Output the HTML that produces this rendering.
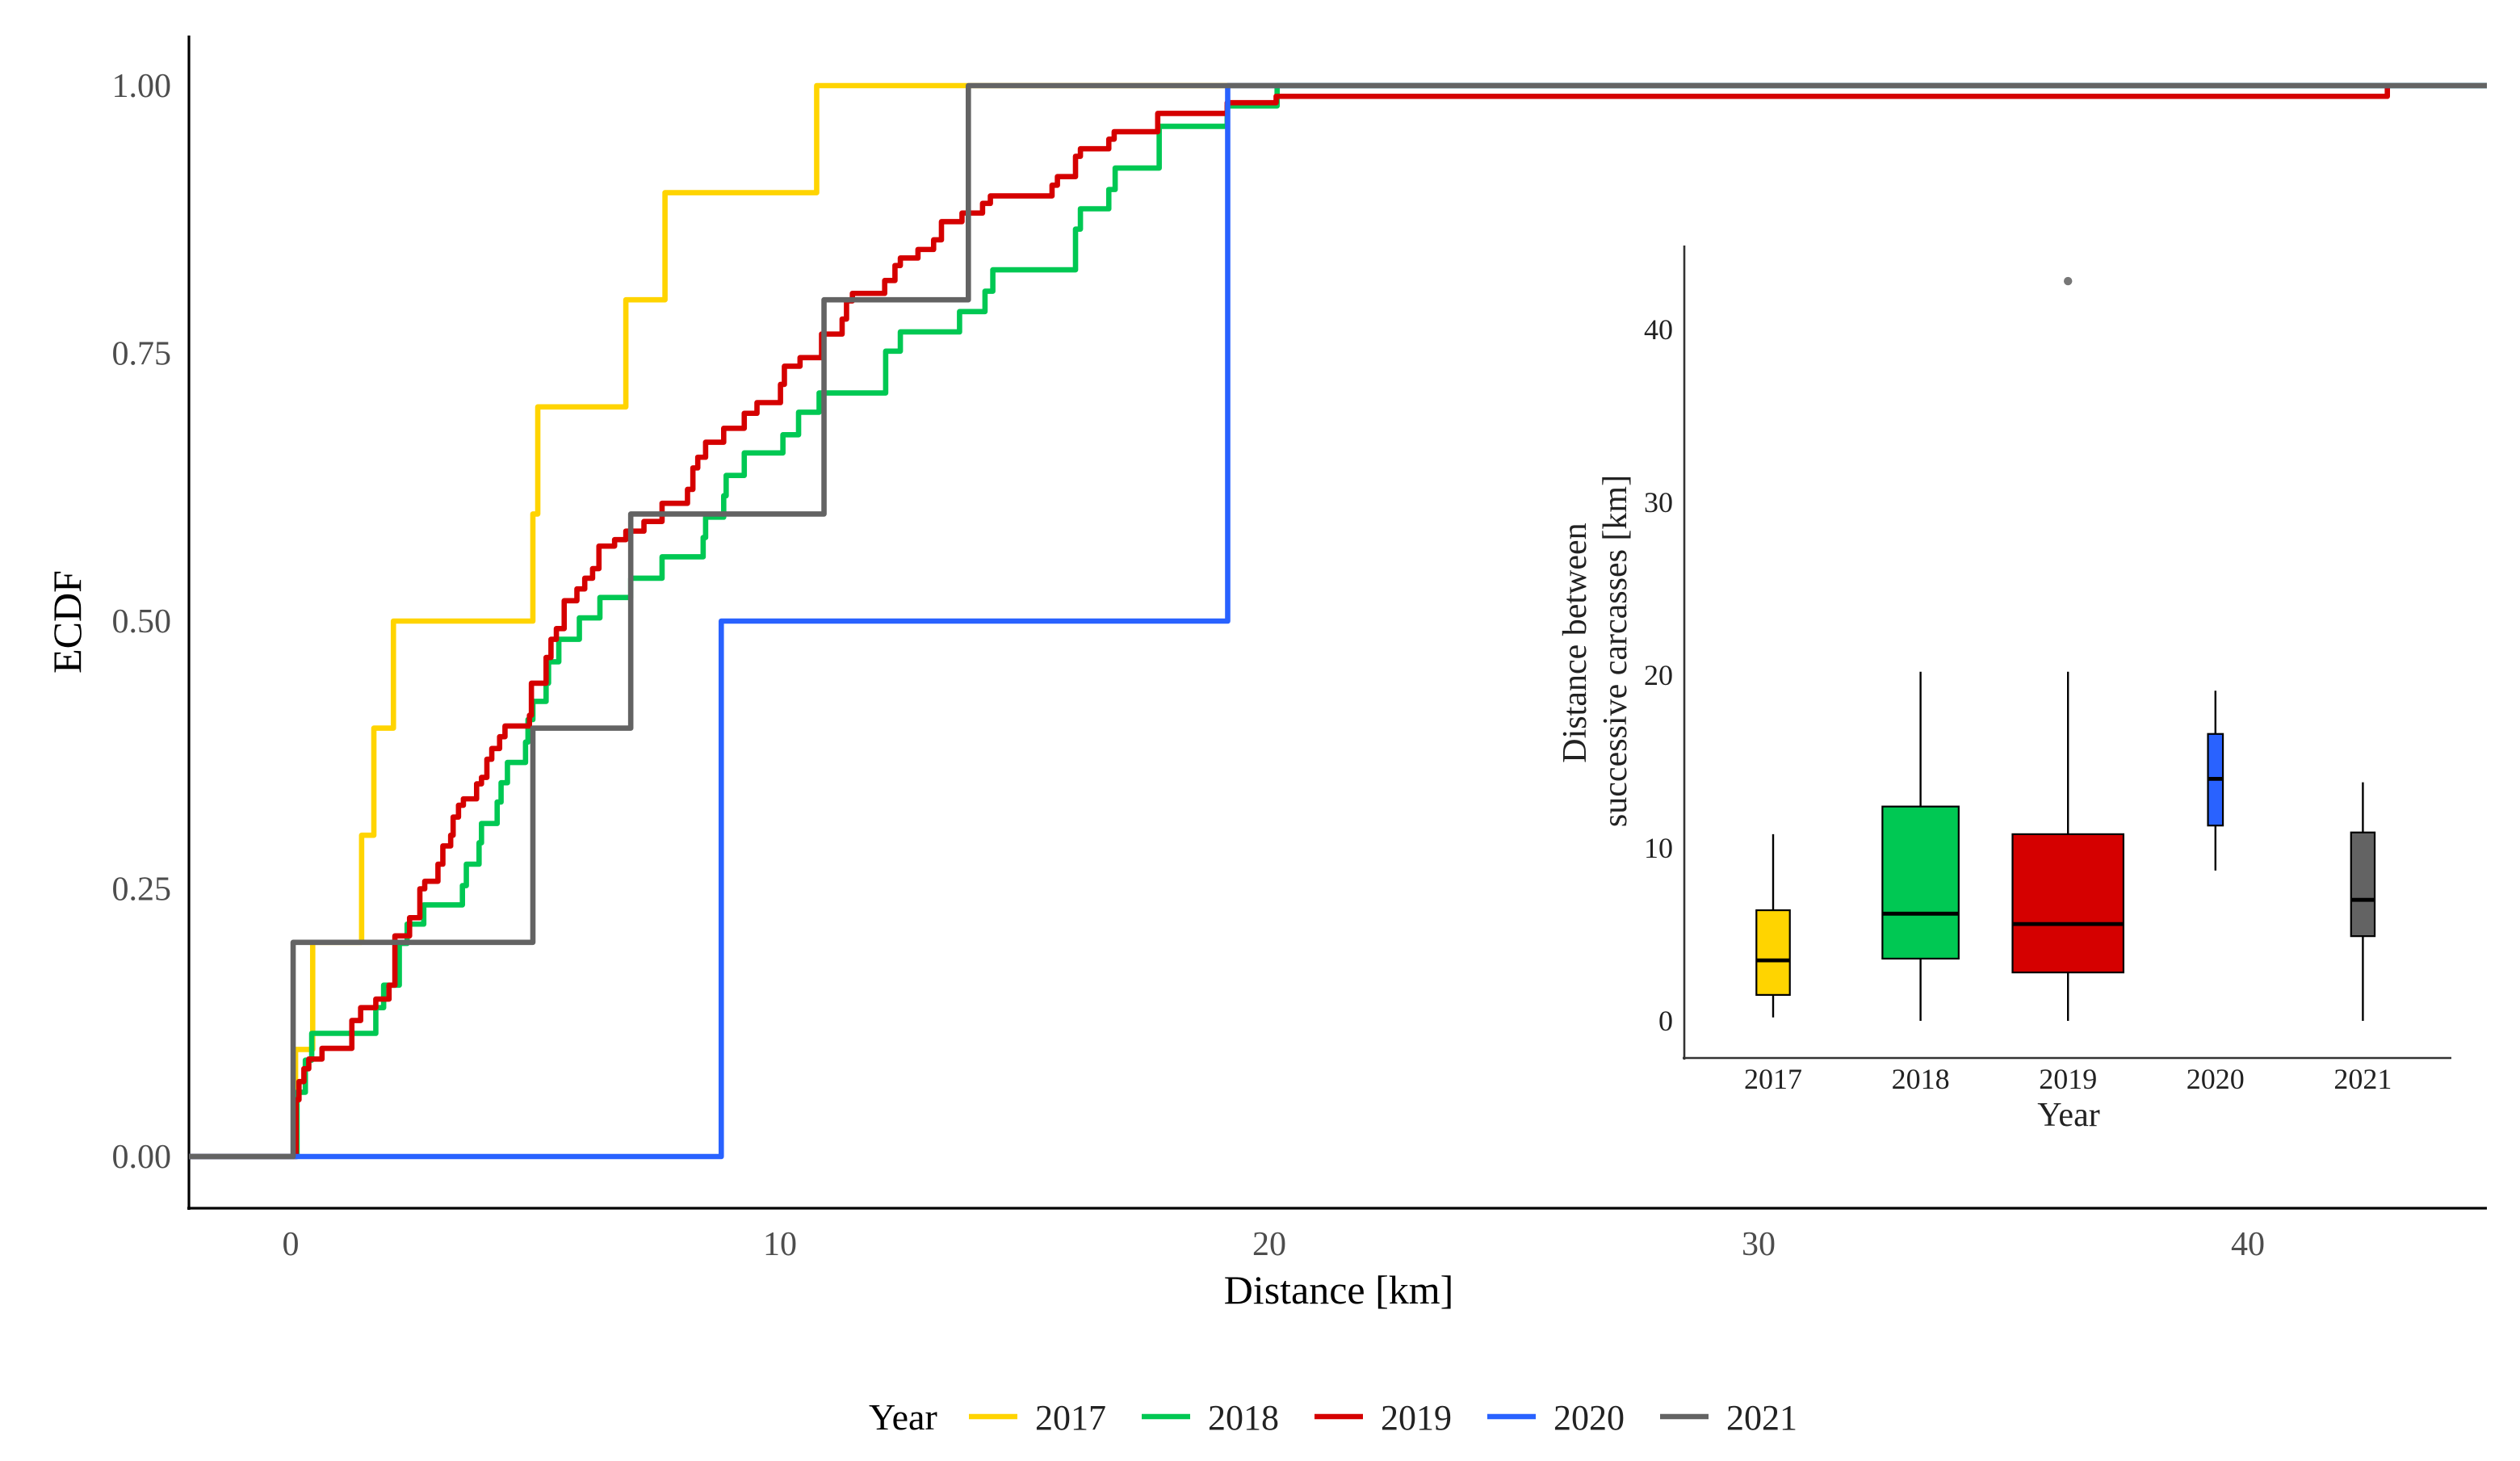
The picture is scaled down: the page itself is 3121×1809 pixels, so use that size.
<!DOCTYPE html>
<html><head><meta charset="utf-8"><style>
html,body{margin:0;padding:0;background:#fff;}
svg{display:block;font-family:"Liberation Serif",serif;}
</style></head><body>
<svg id="chart" width="3121" height="1809" viewBox="0 0 1560.5 904.5" xmlns="http://www.w3.org/2000/svg">
<g id="main"></g><g id="inset"></g><g id="legend"></g>
</svg>
<script>
// ---- main ECDF data (km, cumulative level after step) ----
const years = ["2017","2018","2019","2020","2021"];
const colors = ["#FFD400","#00C853","#D50000","#2962FF","#636363"];
const x2017 = [0.1,0.45,1.45,1.7,2.1,4.95,5.05,6.85,7.65,10.75];
const y2017 = [0.1,0.2,0.3,0.4,0.5,0.6,0.7,0.8,0.9,1.0];
const x2018 = [0.13,0.30,0.43,1.74,1.90,2.22,2.38,2.72,3.51,3.59,3.85,3.90,4.22,4.30,4.43,4.80,4.85,4.95,5.22,5.27,5.48,5.90,6.32,6.95,7.59,8.43,8.48,8.85,8.90,9.27,10.06,10.38,10.80,12.16,12.46,13.67,14.19,14.35,16.04,16.14,16.72,16.85,17.75,19.14,20.16];
const y2018 = [0.06,0.09,0.115,0.139,0.160,0.199,0.217,0.235,0.253,0.273,0.293,0.311,0.331,0.349,0.368,0.387,0.408,0.425,0.442,0.462,0.483,0.503,0.522,0.540,0.560,0.578,0.597,0.617,0.636,0.657,0.674,0.695,0.713,0.752,0.770,0.789,0.808,0.828,0.866,0.885,0.903,0.923,0.962,0.981,1.0];
const x2019 = [0.11,0.17,0.27,0.37,0.64,1.25,1.43,1.74,2.01,2.13,2.43,2.64,2.74,3.01,3.11,3.27,3.32,3.43,3.53,3.80,3.90,4.01,4.11,4.27,4.38,4.88,4.92,5.22,5.32,5.43,5.59,5.85,6.01,6.17,6.30,6.62,6.85,7.22,7.59,8.11,8.22,8.32,8.48,8.85,9.27,9.53,10.01,10.09,10.41,10.85,11.27,11.36,11.48,12.14,12.35,12.46,12.82,13.14,13.30,13.72,14.14,14.30,15.56,15.67,16.04,16.14,16.72,16.83,17.72,19.14,20.14,42.85];
const y2019 = [0.053,0.070,0.082,0.091,0.101,0.127,0.139,0.147,0.160,0.206,0.223,0.250,0.257,0.273,0.290,0.300,0.317,0.328,0.334,0.348,0.354,0.371,0.381,0.392,0.402,0.412,0.442,0.466,0.483,0.493,0.519,0.530,0.540,0.549,0.570,0.576,0.584,0.593,0.610,0.623,0.643,0.653,0.667,0.680,0.694,0.704,0.721,0.738,0.746,0.768,0.782,0.799,0.806,0.818,0.832,0.839,0.847,0.856,0.873,0.881,0.890,0.897,0.907,0.915,0.934,0.941,0.950,0.957,0.974,0.984,0.990,1.0];
const x2020 = [8.8,19.15];
const y2020 = [0.5,1.0];
const x2021 = [0.05,4.95,6.95,10.9,13.85];
const y2021 = [0.2,0.4,0.6,0.8,1.0];
const xTicks = [0,10,20,30,40];
const yTicks = [0,0.25,0.5,0.75,1.0];
const yTickLabels = ["0.00","0.25","0.50","0.75","1.00"];
// ---- inset boxplot data ----
const bxLow  = [0.2,0,0,8.7,0];
const bxQ1   = [1.5,3.6,2.8,11.3,4.9];
const bxMed  = [3.5,6.2,5.6,14.0,7.0];
const bxQ3   = [6.4,12.4,10.8,16.6,10.9];
const bxHigh = [10.8,20.2,20.2,19.1,13.8];
const bxN    = [10,52,110,2,5];
const outlierYear = [2];
const outlierVal = [42.8];
const insetTicks = [0,10,20,30,40];

const NS="http://www.w3.org/2000/svg";
function mk(tag,attrs,parent,text){const e=document.createElementNS(NS,tag);for(const k in attrs)e.setAttribute(k,attrs[k]);if(text!==undefined)e.textContent=text;parent.appendChild(e);return e;}
const X=km=>180+30.3*km, Y=p=>716-663*p;
const main=document.getElementById('main');
let e;
e=mk('line',{x1:117,y1:22,x2:117,y2:749,stroke:'#000','stroke-width':1.6},main);


e=mk('line',{x1:116,y1:748,x2:1540,y2:748,stroke:'#000','stroke-width':1.6},main);


yTicks.forEach((t,i)=>{
  e=mk('text',{x:106,y:Y(t)+7,'text-anchor':'end','font-size':21,fill:'#4d4d4d'},main,yTickLabels[i]);
  
  
});
xTicks.forEach(t=>{
  e=mk('text',{x:X(t),y:777,'text-anchor':'middle','font-size':21,fill:'#4d4d4d'},main,String(t));
  
  
});
e=mk('text',{x:829,y:807,'text-anchor':'middle','font-size':25,fill:'#000'},main,'Distance [km]');


e=mk('text',{x:0,y:0,'text-anchor':'middle','font-size':25,fill:'#000',transform:'translate(50,385) rotate(-90)'},main,'ECDF');


const xs=[x2017,x2018,x2019,x2020,x2021], ys=[y2017,y2018,y2019,y2020,y2021];
xs.forEach((xa,s)=>{
  let d='M117,'+Y(0);
  xa.forEach((v,i)=>{d+=' H'+X(v)+' V'+Y(ys[s][i]);});
  if(s!==2) d+=' H1540';
  e=mk('path',{d:d,fill:'none',stroke:colors[s],'stroke-width':3.3,'stroke-linejoin':'round'},main);
  
  
});
// inset
const ins=document.getElementById('inset');
const IX=i=>1098+91.3*i, IY=v=>632-10.7*v;
e=mk('line',{x1:1043,y1:152,x2:1043,y2:656,stroke:'#333','stroke-width':1.3},ins);


e=mk('line',{x1:1042,y1:655,x2:1518,y2:655,stroke:'#333','stroke-width':1.3},ins);


insetTicks.forEach(t=>{
  e=mk('text',{x:1036,y:IY(t)+6,'text-anchor':'end','font-size':18,fill:'#222'},ins,String(t));
  
  
});
years.forEach((yr,i)=>{
  e=mk('text',{x:IX(i),y:674,'text-anchor':'middle','font-size':18,fill:'#222'},ins,yr);
  
  
  const w=6.55*Math.sqrt(bxN[i]), cx=IX(i);
  e=mk('line',{x1:cx,y1:IY(bxLow[i]),x2:cx,y2:IY(bxHigh[i]),stroke:'#000','stroke-width':1.2},ins);
  
  
  e=mk('rect',{x:cx-w/2,y:IY(bxQ3[i]),width:w,height:IY(bxQ1[i])-IY(bxQ3[i]),fill:colors[i],stroke:'#000','stroke-width':1.1},ins);
  
  
  e=mk('line',{x1:cx-w/2,y1:IY(bxMed[i]),x2:cx+w/2,y2:IY(bxMed[i]),stroke:'#000','stroke-width':2.4},ins);
  
  
});
outlierYear.forEach((yi,k)=>{
  e=mk('circle',{cx:IX(yi),cy:IY(outlierVal[k]),r:2.6,fill:'#777'},ins);
  
  
});
e=mk('text',{x:1281,y:697,'text-anchor':'middle','font-size':21,fill:'#222'},ins,'Year');


e=mk('text',{x:0,y:0,'text-anchor':'middle','font-size':21,fill:'#222',transform:'translate(982,398) rotate(-90)'},ins,'Distance between');


e=mk('text',{x:0,y:0,'text-anchor':'middle','font-size':21,fill:'#222',transform:'translate(1007,403) rotate(-90)'},ins,'successive carcasses [km]');


// legend
const lg=document.getElementById('legend');
e=mk('text',{x:538,y:885,'font-size':23,fill:'#000'},lg,'Year');


years.forEach((yr,i)=>{
  const x0=600+107*i;
  const g=mk('g',{},lg);
  
  
  mk('line',{x1:x0,y1:877,x2:x0+30,y2:877,stroke:colors[i],'stroke-width':3.3},g);
  mk('text',{x:x0+41,y:885,'font-size':22,fill:'#222'},g,yr);
});
</script>
</body></html>
